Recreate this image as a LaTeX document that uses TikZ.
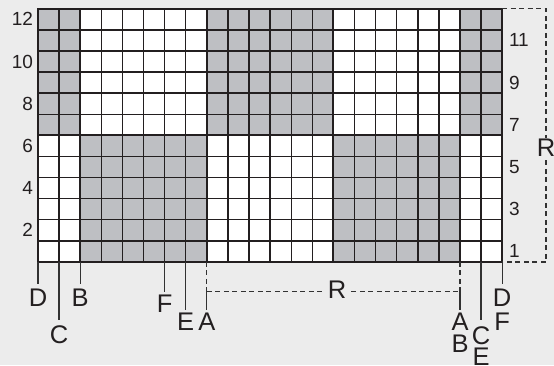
\documentclass[tikz,border=0pt]{standalone}
\usepackage{fontspec}
\setmainfont{Liberation Sans}
\definecolor{bgc}{RGB}{236,236,236}
\definecolor{cellgray}{RGB}{190,191,195}
\definecolor{lineblk}{RGB}{35,31,32}
\definecolor{conn}{RGB}{50,50,50}
\begin{document}
\begin{tikzpicture}[x=1pt,y=-1pt,
  gridline/.style={line width=1.4pt, draw=lineblk},
  blockline/.style={line width=2pt, draw=lineblk},
  num/.style={font=\fontsize{19}{19}\selectfont, inner sep=0pt, outer sep=0pt, text height=13.1pt, text depth=0pt, text=lineblk},
  lab/.style={font=\fontsize{25.5}{25.5}\selectfont, inner sep=0pt, outer sep=0pt, text height=17.5pt, text depth=0pt, text=lineblk, anchor=center},
  leader/.style={line width=1.3pt, draw=conn},
  dimline/.style={line width=1.2pt, draw=conn, dash pattern=on 5pt off 3.5pt},
  rlab/.style={lab, fill=bgc, inner xsep=4pt, inner ysep=1pt}
]
\useasboundingbox[fill=bgc] (0,0) rectangle (554,365);
% grid area
\fill[white] (38,8.7) rectangle (502.2,261.9);
% gray blocks, top half
\fill[cellgray] (38,8.7) rectangle (80.2,135.3);
\fill[cellgray] (206.8,8.7) rectangle (333.4,135.3);
\fill[cellgray] (460,8.7) rectangle (502.2,135.3);
% gray blocks, bottom half
\fill[cellgray] (80.2,135.3) rectangle (206.8,261.9);
\fill[cellgray] (333.4,135.3) rectangle (460,261.9);
% grid lines
\foreach \i in {0,...,22}
  \draw[gridline] ({38+\i*21.1},8.7) -- ({38+\i*21.1},261.9);
\foreach \j in {0,...,12}
  \draw[gridline] (38,{8.7+\j*21.1}) -- (502.2,{8.7+\j*21.1});
\foreach \i in {2,8,14,20}
  \draw[blockline] ({38+\i*21.1},8.7) -- ({38+\i*21.1},261.9);
\draw[blockline] (38,135.3) -- (502.2,135.3);
\draw[blockline] (38,8.7) rectangle (502.2,261.9);
% row numbers
\node[num, anchor=east] (n12) at (33,19.25) {12};
\node[num, anchor=east] (n10) at (33,61.45) {10};
\node[num, anchor=east] (n8) at (33,103.65) {8};
\node[num, anchor=east] (n6) at (33,145.85) {6};
\node[num, anchor=east] (n4) at (33,188.05) {4};
\node[num, anchor=east] (n2) at (33,230.25) {2};
\node[num, anchor=west] (n11) at (509,40.35) {11};
\node[num, anchor=west] (n9) at (509,82.55) {9};
\node[num, anchor=west] (n7) at (509,124.75) {7};
\node[num, anchor=west] (n5) at (509,166.95) {5};
\node[num, anchor=west] (n3) at (509,209.15) {3};
\node[num, anchor=west] (n1) at (509,251.35) {1};
% right repeat bracket
\coordinate (gTR) at (502.2,8.7);
\coordinate (gBR) at (502.2,261.9);
\coordinate (kTR) at (546,8.7);
\coordinate (kBR) at (546,261.9);
\draw[dimline] (gTR) -- (kTR) -- (kBR) -- (gBR);
\node[rlab] (Rright) at (546,148) {R};
% bottom anchors
\coordinate (bD) at (38,261.9);
\coordinate (bC) at (59.1,261.9);
\coordinate (bB) at (80.2,261.9);
\coordinate (bF) at (164.6,261.9);
\coordinate (bE) at (185.7,261.9);
\coordinate (bA) at (206.8,261.9);
\coordinate (bA2) at (460,261.9);
\coordinate (bC2) at (481.1,261.9);
\coordinate (bD2) at (502.2,261.9);
\coordinate (mA) at (206.8,291.7);
\coordinate (mA2) at (460,291.7);
% labels
\node[lab] (D) at (38,297.5) {D};
\node[lab] (C) at (59.1,335) {C};
\node[lab] (B) at (80.2,297.5) {B};
\node[lab] (F) at (164.6,304) {F};
\node[lab] (E) at (185.7,322) {E};
\node[lab] (A) at (206.8,322) {A};
\node[lab] (A2) at (460,322) {A};
\node[lab] (B2) at (460,344) {B};
\node[lab] (C2) at (481.1,336) {C};
\node[lab] (E2) at (481.1,356.5) {E};
\node[lab] (D2) at (502.2,297.5) {D};
\node[lab] (F2) at (502.2,322) {F};
% leader lines
\draw[leader, shorten >=4.5pt] (bD) -- (D.north);
\draw[leader, shorten >=6.5pt] (bC) -- (C.north);
\draw[leader, shorten >=4.5pt] (bB) -- (B.north);
\draw[leader, shorten >=3.5pt] (bF) -- (F.north);
\draw[leader, shorten >=3.5pt] (bE) -- (E.north);
\draw[dimline] (bA) -- (mA);
\draw[leader, shorten >=3pt] (mA) -- (A.north);
\draw[dimline] (bA2) -- (mA2);
\draw[leader, shorten >=3pt] (mA2) -- (A2.north);
\draw[leader, shorten >=7pt] (bC2) -- (C2.north);
\draw[leader, shorten >=4.5pt] (bD2) -- (D2.north);
% repeat dimension
\draw[dimline] (mA) -- (mA2);
\node[rlab] (Rbot) at (337,290) {R};
\end{tikzpicture}
\end{document}
